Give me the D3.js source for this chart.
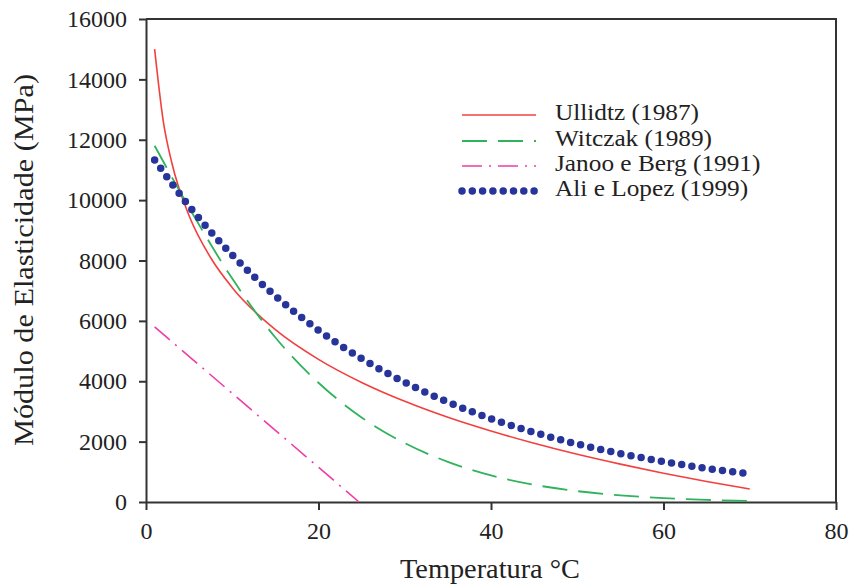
<!DOCTYPE html>
<html lang="pt">
<head>
<meta charset="utf-8">
<title>Módulo de Elasticidade x Temperatura</title>
<script src="https://d3js.org/d3.v7.min.js"></script>
<style>
  body { margin: 0; background: #fff; }
  svg text { font-family: "Liberation Serif", "Times New Roman", "DejaVu Serif", serif; fill: #222; }
  .axis path, .axis line { stroke: #333; stroke-width: 2px; }
  .axis text { font-size: 24px; }
</style>
</head>
<body>
<script>
// data
const ullidtzT = [1, 2, 3, 5, 7.5, 10, 15, 20, 25, 30, 35, 40, 45, 50, 55, 60, 65, 70];
const ullidtzE = [15000, 12620, 11230, 9480, 8090, 7100, 5710, 4725, 3960, 3335, 2805, 2350, 1945, 1580, 1255, 955, 680, 430];

const witczakT = [1, 5, 10, 15, 20, 25, 30, 35, 40, 45, 50, 55, 60, 65, 70];
const witczakE = [11800, 9750, 7400, 5450, 3950, 2800, 1950, 1330, 880, 570, 360, 220, 130, 70, 35];

const janooT = [1, 24.7];
const janooE = [5800, 0];

const aliT = [1, 5, 10, 15, 20, 25, 30, 35, 40, 45, 50, 55, 60, 65, 70];
const aliE = [11330, 9800, 8180, 6825, 5690, 4750, 3965, 3310, 2760, 2305, 1920, 1605, 1340, 1115, 930];

const legendNames = ["Ullidtz (1987)", "Witczak (1989)", "Janoo e Berg (1991)", "Ali e Lopez (1999)"];
const xTicks = [0, 20, 40, 60, 80];
const yTicks = [0, 2000, 4000, 6000, 8000, 10000, 12000, 14000, 16000];

const W = 852, H = 588;
const mLeft = 146, mRight = 836, mTop = 19, mBottom = 502;

const svg = d3.select("body").append("svg")
  .attr("width", W)
  .attr("height", H);

const x = d3.scaleLinear().domain([0, 80]).range([mLeft, mRight]);
const y = d3.scaleLinear().domain([0, 16000]).range([mBottom, mTop]);

// frame (top and right)
svg.append("path")
  .attr("d", `M${mLeft},${mTop}H${mRight}V${mBottom}`)
  .attr("fill", "none")
  .attr("stroke", "#333")
  .attr("stroke-width", 2);

// axes
svg.append("g")
  .attr("class", "axis")
  .attr("transform", `translate(0,${mBottom})`)
  .call(d3.axisBottom(x).tickValues(xTicks).tickFormat(d3.format("d"))
    .tickSize(8).tickSizeOuter(0).tickPadding(12));

svg.append("g")
  .attr("class", "axis")
  .attr("transform", `translate(${mLeft},0)`)
  .call(d3.axisLeft(y).tickValues(yTicks).tickFormat(d3.format("d"))
    .tickSize(7).tickSizeOuter(0).tickPadding(12));

// series
const series = [
  { name: legendNames[0], T: ullidtzT, E: ullidtzE, color: "#f2403f", width: 1.6, dash: null, cap: "butt" },
  { name: legendNames[1], T: witczakT, E: witczakE, color: "#2fb35c", width: 1.8, dash: "25,11", cap: "butt" },
  { name: legendNames[2], T: janooT, E: janooE, color: "#f03ca6", width: 1.6, dash: "20,7,2,7", cap: "butt" },
  { name: legendNames[3], T: aliT, E: aliE, color: "#27349a", width: 7.5, dash: "0,10.3", cap: "round" }
];

const line = d3.line()
  .curve(d3.curveMonotoneX)
  .x(d => x(d[0]))
  .y(d => y(d[1]));

series.forEach(s => {
  svg.append("path")
    .datum(s.T.map((t, i) => [t, s.E[i]]))
    .attr("d", line)
    .attr("fill", "none")
    .attr("stroke", s.color)
    .attr("stroke-width", s.width)
    .attr("stroke-dasharray", s.dash)
    .attr("stroke-linecap", s.cap);
});

// legend
const legendY = [115, 141, 166, 191];
series.forEach((s, i) => {
  svg.append("line")
    .attr("x1", 462).attr("x2", 536)
    .attr("y1", legendY[i]).attr("y2", legendY[i])
    .attr("stroke", s.color)
    .attr("stroke-width", s.width)
    .attr("stroke-dasharray", s.dash)
    .attr("stroke-linecap", s.cap);
  const t = svg.append("text")
    .attr("x", 555)
    .attr("y", legendY[i] + 5)
    .attr("font-size", 23)
    .text(s.name);
  // the source type is a bit wider: stretch it horizontally
  const w = t.node().getComputedTextLength();
  t.attr("textLength", w * 1.1).attr("lengthAdjust", "spacingAndGlyphs");
});

// axis titles
svg.append("text")
  .attr("x", 490)
  .attr("y", 578)
  .attr("text-anchor", "middle")
  .attr("font-size", 27)
  .attr("textLength", 180)
  .attr("lengthAdjust", "spacingAndGlyphs")
  .text("Temperatura °C");

svg.append("text")
  .attr("transform", "translate(33,260) rotate(-90)")
  .attr("text-anchor", "middle")
  .attr("font-size", 27)
  .attr("textLength", 372)
  .attr("lengthAdjust", "spacingAndGlyphs")
  .text("Módulo de Elasticidade (MPa)");
</script>
</body>
</html>
